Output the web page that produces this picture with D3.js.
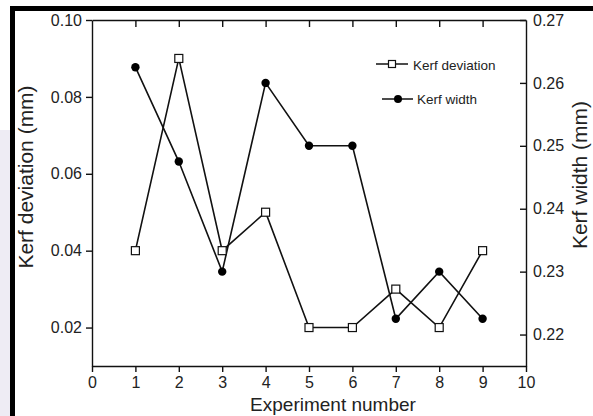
<!DOCTYPE html>
<html>
<head>
<meta charset="utf-8">
<script src="https://cdn.jsdelivr.net/npm/d3@7"></script>
<style>
body { margin: 0; background: #fff; }
svg { display: block; font-family: "Liberation Sans", Arial, sans-serif; }
.axis path, .axis line { stroke: #111; stroke-width: 1.4px; }
.axis text { fill: #222; font-size: 16px; font-family: "Liberation Sans", Arial, sans-serif; }
.title { fill: #222; }
</style>
</head>
<body>
<div id="chart"></div>
<script>
// data
const experiments = [1, 2, 3, 4, 5, 6, 7, 8, 9];
const kerfDeviation = [0.04, 0.09, 0.04, 0.05, 0.02, 0.02, 0.03, 0.02, 0.04];
const kerfWidth = [0.2625, 0.2475, 0.23, 0.26, 0.25, 0.25, 0.2225, 0.23, 0.2225];
const xTicks = [0, 1, 2, 3, 4, 5, 6, 7, 8, 9, 10];
const leftTicks = [0.02, 0.04, 0.06, 0.08, 0.10];
const rightTicks = [0.22, 0.23, 0.24, 0.25, 0.26, 0.27];
const seriesNames = ["Kerf deviation", "Kerf width"];

// set the dimensions and margins of the graph
const W = 593, H = 416;
const margin = {top: 20, right: 67, bottom: 50, left: 92},
      width = W - margin.left - margin.right,
      height = H - margin.top - margin.bottom;

const root = d3.select("#chart")
    .append("svg")
        .attr("width", W)
        .attr("height", H);

// frame of the scanned figure
root.append("rect").attr("x", 0).attr("y", 130).attr("width", 10).attr("height", H - 130)
    .attr("fill", "#eeecf4");
root.append("rect").attr("x", 10).attr("y", 6).attr("width", W - 10).attr("height", 5)
    .attr("fill", "#000");
root.append("rect").attr("x", 10).attr("y", 6).attr("width", 5).attr("height", H - 6)
    .attr("fill", "#000");

const svg = root.append("g")
    .attr("transform", `translate(${margin.left},${margin.top})`);

// scales
const x = d3.scaleLinear().domain([0, 10]).range([0, width]);
const yL = d3.scaleLinear().domain([0.01, 0.10]).range([height, 0]);
const yR = d3.scaleLinear().domain([0.215, 0.27]).range([height, 0]);

// axes
svg.append("g")
    .attr("class", "axis")
    .attr("transform", `translate(0, ${height})`)
    .call(d3.axisBottom(x).tickValues(xTicks).tickSizeInner(6).tickSizeOuter(0).tickPadding(5)
        .tickFormat(d3.format("d")));

svg.append("g")
    .attr("class", "axis")
    .call(d3.axisTop(x).tickValues(experiments).tickSizeInner(-7).tickSizeOuter(0).tickFormat(""));

svg.append("g")
    .attr("class", "axis")
    .call(d3.axisLeft(yL).tickValues(leftTicks).tickSizeInner(6).tickSizeOuter(0).tickPadding(4)
        .tickFormat(d3.format(".2f")));

svg.append("g")
    .attr("class", "axis")
    .attr("transform", `translate(${width}, 0)`)
    .call(d3.axisRight(yR).tickValues(rightTicks).tickSizeInner(-6).tickSizeOuter(0).tickPadding(7)
        .tickFormat(d3.format(".2f")));

// axis titles
root.append("text")
    .attr("class", "title")
    .attr("x", 333).attr("y", 411)
    .attr("text-anchor", "middle")
    .style("font-size", "19px")
    .text("Experiment number");

root.append("text")
    .attr("class", "title")
    .attr("transform", "translate(33,177) rotate(-90)")
    .attr("text-anchor", "middle")
    .style("font-size", "21px")
    .text("Kerf deviation (mm)");

root.append("text")
    .attr("class", "title")
    .attr("transform", "translate(587,175) rotate(-90)")
    .attr("text-anchor", "middle")
    .style("font-size", "21px")
    .text("Kerf width (mm)");

// lines
const devData = experiments.map((e, i) => ({x: e, y: kerfDeviation[i]}));
const widData = experiments.map((e, i) => ({x: e, y: kerfWidth[i]}));

svg.append("path")
    .datum(devData)
    .attr("fill", "none")
    .attr("stroke", "#111")
    .attr("stroke-width", 1.6)
    .attr("d", d3.line().x(d => x(d.x)).y(d => yL(d.y)));

svg.append("path")
    .datum(widData)
    .attr("fill", "none")
    .attr("stroke", "#111")
    .attr("stroke-width", 1.6)
    .attr("d", d3.line().x(d => x(d.x)).y(d => yR(d.y)));

// markers
const sq = 8;
svg.selectAll(".sq")
    .data(devData)
    .join("rect")
        .attr("class", "sq")
        .attr("x", d => x(d.x) - sq / 2)
        .attr("y", d => yL(d.y) - sq / 2)
        .attr("width", sq).attr("height", sq)
        .attr("fill", "#fff")
        .attr("stroke", "#111")
        .attr("stroke-width", 1.2);

svg.selectAll(".dot")
    .data(widData)
    .join("circle")
        .attr("class", "dot")
        .attr("cx", d => x(d.x))
        .attr("cy", d => yR(d.y))
        .attr("r", 4.2)
        .attr("fill", "#000");

// legend
const legend = root.append("g");
const lg1 = legend.append("g").attr("transform", "translate(376,64)");
lg1.append("line").attr("x1", 0).attr("x2", 32).attr("stroke", "#111").attr("stroke-width", 1.5);
lg1.append("rect").attr("x", 16 - 3.5).attr("y", -3.5).attr("width", 7).attr("height", 7)
    .attr("fill", "#fff").attr("stroke", "#111").attr("stroke-width", 1.2);
lg1.append("text").attr("x", 37).attr("y", 6).style("font-size", "13.5px").attr("fill", "#222")
    .text(seriesNames[0]);

const lg2 = legend.append("g").attr("transform", "translate(382,99)");
lg2.append("line").attr("x1", 0).attr("x2", 31).attr("stroke", "#111").attr("stroke-width", 1.5);
lg2.append("circle").attr("cx", 16).attr("r", 4).attr("fill", "#000");
lg2.append("text").attr("x", 35).attr("y", 5).style("font-size", "13.5px").attr("fill", "#222")
    .text(seriesNames[1]);
</script>
</body>
</html>
